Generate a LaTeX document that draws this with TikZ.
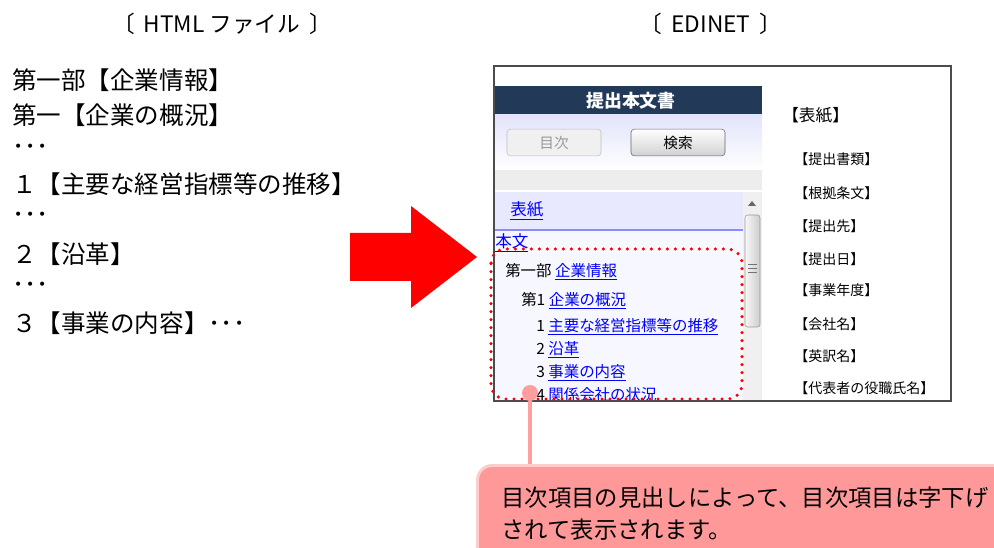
\documentclass[tikz,border=0pt]{standalone}
\usepackage{fontspec}
\setmainfont{Noto Sans CJK JP}
\usetikzlibrary{positioning}

\definecolor{hdrblue}{RGB}{34,58,87}
\definecolor{paneltop}{RGB}{226,228,250}
\definecolor{tocbg}{RGB}{232,232,255}
\definecolor{bodybg}{RGB}{247,247,255}
\definecolor{linkblue}{RGB}{0,0,255}
\definecolor{notepink}{RGB}{255,153,153}
\definecolor{noteedge}{RGB}{255,204,204}
\definecolor{pinpink}{RGB}{255,158,158}

\newcommand{\lnk}[1]{\textcolor{linkblue}{\underline{#1}}}

\tikzset{
    heading/.style={
        font=\fontsize{17}{20}\selectfont,
        inner sep=0pt
    },
    srcline/.style={
        anchor=west,
        inner sep=0pt,
        font=\fontsize{18.4}{22}\selectfont
    },
    btn/.style={
        draw,
        rounded corners=2.5pt,
        minimum width=70.5pt,
        minimum height=20pt,
        inner sep=0pt,
        font=\fontsize{11}{13}\selectfont
    },
    tocitem/.style={
        anchor=west,
        inner sep=0pt,
        font=\fontsize{11.6}{14}\selectfont
    },
    coveritem/.style={
        anchor=west,
        inner sep=0pt,
        font=\fontsize{10.5}{13}\selectfont
    },
    pindot/.style={
        circle,
        fill=pinpink,
        minimum size=12pt,
        inner sep=0pt
    },
    callout/.style={
        anchor=north west,
        fill=notepink,
        draw=noteedge,
        line width=2.2pt,
        rounded corners=11pt,
        align=left,
        text width=375pt,
        inner xsep=18pt,
        inner ysep=16pt,
        font=\fontsize{17.5}{24}\selectfont
    }
}

\begin{document}
\begin{tikzpicture}[
    x=0.75pt,
    y=-0.75pt
]
    \useasboundingbox (0,0) rectangle (994,548);

    % Titres
    \node[heading] (thtml)  at (222,24) {〔\hspace{0.4em}HTML ファイル\hspace{0.4em}〕};
    \node[heading] (tedi)   at (711,24) {〔\hspace{0.4em}EDINET\hspace{0.4em}〕};

    % HTML source
    \node[srcline] (s1) at (12,80)  {第一部【企業情報】};
    \node[srcline] (s2) at (12,115) {第一【企業の概況】};
    \node[srcline] (s3) at (12,150) {･･･};
    \node[srcline] (s4) at (12,184) {１【主要な経営指標等の推移】};
    \node[srcline] (s5) at (12,218) {･･･};
    \node[srcline] (s6) at (12,254) {２【沿革】};
    \node[srcline] (s7) at (12,288) {･･･};
    \node[srcline] (s8) at (12,323) {３【事業の内容】･･･};

    % Big arrow
    \fill[red] (350,233) -- (411,233) -- (411,206) -- (477,257)
        -- (411,308) -- (411,281) -- (350,281) -- cycle;

    % EDINET window, left panel
    \fill[hdrblue] (494,86) rectangle (762,115);
    \shade[top color=paneltop, bottom color=white] (494,115) rectangle (762,170);
    \fill[black!7] (494,170) rectangle (762,190);
    \fill[tocbg] (494,192) rectangle (743,230);
    \fill[bodybg] (494,231) rectangle (743,401);
    \draw[blue!45, line width=0.8pt] (494,230) -- (743,230);

    \node[text=white, font=\bfseries\fontsize{13.4}{16}\selectfont] (hdr) at (631,101) {提出本文書};
    \node[btn, draw=black!25, fill=black!6, text=black!40] (bmoku) at (554,142.5) {目次};
    \node[btn, draw=black!60, top color=white, bottom color=black!18] (bken) at (678,142.5) {検索};

    % scrollbar
    \fill[black!6] (743,192) rectangle (762,401);
    \fill[black!60] (748,206) -- (756,206) -- (752,201) -- cycle;
    \shade[left color=black!3, right color=black!20, draw=black!40, rounded corners=2pt]
        (745,215) rectangle (760,327);
    \foreach \gy in {264,268,272}
        \draw[black!55, line width=0.6pt] (748,\gy) -- (757,\gy);

    % toc links
    \node[tocitem, font=\fontsize{12.4}{15}\selectfont] (lhyo)  at (510,211) {\lnk{表紙}};
    \node[tocitem, font=\fontsize{12.4}{15}\selectfont] (lhon)  at (495,243) {\lnk{本文}};
    \node[tocitem] (l1) at (505,272) {第一部 \lnk{企業情報}};
    \node[tocitem] (l2) at (521,301) {第1 \lnk{企業の概況}};
    \node[tocitem] (l3) at (536,327) {1 \lnk{主要な経営指標等の推移}};
    \node[tocitem] (l4) at (536,350) {2 \lnk{沿革}};
    \node[tocitem] (l5) at (536,373) {3 \lnk{事業の内容}};
    \begin{scope}
        \clip (494,231) rectangle (743,400);
        \node[tocitem] (l6) at (536,396) {4 \lnk{関係会社の状況}};
    \end{scope}

    % right side (cover)
    \node[coveritem, font=\fontsize{12.5}{15}\selectfont] (c0) at (782,115) {【表紙】};
    \node[coveritem] (c1) at (794,159) {【提出書類】};
    \node[coveritem] (c2) at (794,193) {【根拠条文】};
    \node[coveritem] (c3) at (794,226) {【提出先】};
    \node[coveritem] (c4) at (794,259) {【提出日】};
    \node[coveritem] (c5) at (794,290) {【事業年度】};
    \node[coveritem] (c6) at (794,324) {【会社名】};
    \node[coveritem] (c7) at (794,356) {【英訳名】};
    \node[coveritem] (c8) at (794,388) {【代表者の役職氏名】};

    % window frame
    \draw[black!70, line width=1.1pt] (494,66) rectangle (951,401);

    % dotted mark
    \draw[red, line width=2.6pt, line cap=round, dash pattern=on 0pt off 6pt,
        rounded corners=11pt] (491,249) rectangle (742,399);

    % callout
    \node[callout] (note) at (476,464)
        {目次項目の見出しによって、目次項目は字下げ\\されて表示されます。};
    \node[pindot] (pin) at (530,393) {};
    \draw[pinpink, line width=3pt] (pin) -- (pin |- note.north);

\end{tikzpicture}
\end{document}
